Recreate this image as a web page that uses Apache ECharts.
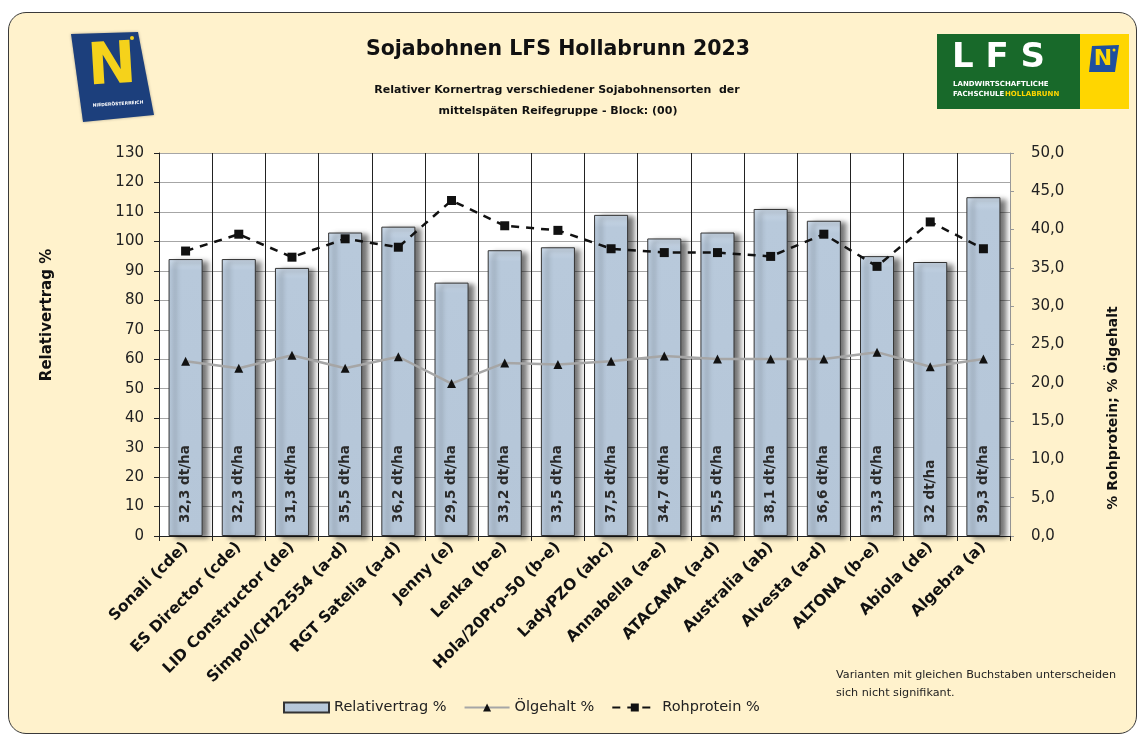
<!DOCTYPE html>
<html><head><meta charset="utf-8">
<script src="https://cdn.jsdelivr.net/npm/echarts@6/dist/echarts.min.js"></script>
<style>
html,body{margin:0;padding:0;background:#fff;}
#frame{position:absolute;left:8px;top:12px;width:1129px;height:722px;border:1.5px solid #3a3a3a;border-radius:18px;background:#fff2cc;box-sizing:border-box;}
#chart{position:absolute;left:0;top:0;width:1144px;height:738px;}
</style></head><body>
<div id="frame"></div><div id="chart"></div>
<script>
const categories = ['Sonali (cde)','ES Director (cde)','LID Constructor (de)','Simpol/CH22554 (a-d)','RGT Satelia (a-d)','Jenny (e)','Lenka (b-e)','Hola/20Pro-50 (b-e)','LadyPZO (abc)','Annabella (a-e)','ATACAMA (a-d)','Australia (ab)','Alvesta (a-d)','ALTONA (b-e)','Abiola (de)','Algebra (a)'];
const relativertrag = [94, 94, 91, 103, 105, 86, 97, 98, 109, 101, 103, 111, 107, 95, 93, 115];
const oelgehalt = [22.8, 21.9, 23.6, 21.9, 23.4, 19.9, 22.6, 22.4, 22.8, 23.5, 23.1, 23.1, 23.1, 24.0, 22.1, 23.1];
const rohprotein = [37.2, 39.4, 36.4, 38.8, 37.7, 43.8, 40.5, 39.9, 37.5, 37.0, 37.0, 36.5, 39.4, 35.2, 41.0, 37.5];
const ertragLabels = ['32,3','32,3','31,3','35,5','36,2','29,5','33,2','33,5','37,5','34,7','35,5','38,1','36,6','33,3','32','39,3'];
const leftAxis = {min: 0, max: 130, interval: 10};
const rightAxis = {min: 0, max: 50, interval: 5};

const FONT = 'DejaVu Sans';
const chart = echarts.init(document.getElementById('chart'));
chart.setOption({
  backgroundColor: 'transparent',
  textStyle: {fontFamily: FONT},
  animation: false,
  grid: {left: 159, right: 134, top: 153, bottom: 202, show: true, backgroundColor: '#ffffff', borderWidth: 0},
  legend: {
    left: 278, top: 695, itemWidth: 45, itemHeight: 10, itemGap: 17,
    textStyle: {fontFamily: FONT, fontSize: 14.5, color: '#222'},
    data: [{name: 'Relativertrag %', icon: 'rect'}, {name: 'Ölgehalt %'}, {name: 'Rohprotein %'}]
  },
  xAxis: {
    type: 'category', data: categories,
    axisLine: {lineStyle: {color: '#222', width: 1}},
    axisTick: {show: true, length: 5, lineStyle: {color: '#222'}},
    splitLine: {show: true, lineStyle: {color: '#222', width: 1}},
    axisLabel: {rotate: 45, interval: 0, fontFamily: FONT, fontWeight: 'bold', fontSize: 15.5, color: '#111', margin: 9}
  },
  yAxis: [{
    type: 'value', min: leftAxis.min, max: leftAxis.max, interval: leftAxis.interval,
    axisLine: {show: true, lineStyle: {color: '#222'}},
    axisTick: {show: true, length: 5, lineStyle: {color: '#222'}},
    splitLine: {show: true, lineStyle: {color: '#a6a6a6', width: 1}},
    axisLabel: {fontFamily: FONT, fontSize: 15, color: '#222', margin: 15}
  }, {
    type: 'value', min: rightAxis.min, max: rightAxis.max, interval: rightAxis.interval, position: 'right',
    axisLine: {show: true, lineStyle: {color: '#999'}},
    axisTick: {show: true, length: 4, lineStyle: {color: '#999'}},
    splitLine: {show: false},
    axisLabel: {fontFamily: FONT, fontSize: 15, color: '#222', margin: 21, formatter: v => v.toFixed(1).replace('.', ',')}
  }],
  series: [{
    name: 'Relativertrag %', type: 'bar', data: relativertrag, barWidth: '64%', z: 2,
    itemStyle: {
      color: new echarts.graphic.LinearGradient(0, 0, 0, 1, [{offset: 0, color: '#cddbea'}, {offset: 0.04, color: '#b8c9db'}, {offset: 1, color: '#b5c6d8'}]),
      borderColor: '#333', borderWidth: 1,
      shadowColor: 'rgba(0,0,0,0.55)', shadowBlur: 5, shadowOffsetX: 6, shadowOffsetY: 2
    },
    label: {
      show: true, position: 'insideBottom', rotate: 90, align: 'left', verticalAlign: 'middle', distance: 13,
      fontFamily: FONT, fontWeight: 'bold', fontSize: 13.5, color: '#2a2a2a',
      formatter: p => ertragLabels[p.dataIndex] + ' dt/ha'
    }
  }, {
    name: 'Ölgehalt %', type: 'line', yAxisIndex: 1, data: oelgehalt, z: 4,
    symbol: 'triangle', symbolSize: 9,
    lineStyle: {color: '#a6a6a6', width: 2.5},
    itemStyle: {color: '#111'}
  }, {
    name: 'Rohprotein %', type: 'line', yAxisIndex: 1, data: rohprotein, z: 5,
    symbol: 'rect', symbolSize: 9,
    lineStyle: {color: '#111', width: 2.5, type: [8, 7]},
    itemStyle: {color: '#111'}
  }],
  graphic: [
    {type: 'text', x: 558, y: 50, style: {text: 'Sojabohnen LFS Hollabrunn 2023', font: 'bold 20.5px "DejaVu Sans"', fill: '#111', align: 'center', verticalAlign: 'middle'}},
    {type: 'text', x: 557, y: 90, style: {text: 'Relativer Kornertrag verschiedener Sojabohnensorten  der', font: 'bold 11px "DejaVu Sans"', fill: '#111', align: 'center', verticalAlign: 'middle'}},
    {type: 'text', x: 558, y: 111, style: {text: 'mittelspäten Reifegruppe - Block: (00)', font: 'bold 11px "DejaVu Sans"', fill: '#111', align: 'center', verticalAlign: 'middle'}},
    {type: 'text', x: 47, y: 315, rotation: Math.PI / 2, style: {text: 'Relativertrag %', font: 'bold 15px "DejaVu Sans"', fill: '#111', align: 'center', verticalAlign: 'middle'}},
    {type: 'text', x: 1113, y: 408, rotation: Math.PI / 2, style: {text: '% Rohprotein; % Ölgehalt', font: 'bold 14px "DejaVu Sans"', fill: '#111', align: 'center', verticalAlign: 'middle'}},
    {type: 'text', x: 836, y: 675, style: {text: 'Varianten mit gleichen Buchstaben unterscheiden', font: '11.2px "DejaVu Sans"', fill: '#222', verticalAlign: 'middle'}},
    {type: 'text', x: 836, y: 693, style: {text: 'sich nicht signifikant.', font: '11.2px "DejaVu Sans"', fill: '#222', verticalAlign: 'middle'}},
    // left logo
    {type: 'polygon', shape: {points: [[71, 34], [138, 32], [154, 115], [83, 122]]}, style: {fill: '#1c3f7c', shadowColor: 'rgba(0,0,0,0.3)', shadowBlur: 3}},
    {type: 'text', x: 112, y: 68, rotation: 0.06, style: {text: 'N', font: 'bold 58px "DejaVu Sans"', fill: '#f5d21b', align: 'center', verticalAlign: 'middle'}},
    {type: 'circle', shape: {cx: 132, cy: 38, r: 2}, style: {fill: '#f5d21b'}},
    {type: 'text', x: 118, y: 104, rotation: 0.06, style: {text: 'NIEDERÖSTERREICH', font: 'bold 4.5px "DejaVu Sans"', fill: '#ffffff', align: 'center', verticalAlign: 'middle'}},
    // right logo
    {type: 'rect', shape: {x: 937, y: 34, width: 143, height: 75}, style: {fill: '#18692a'}},
    {type: 'rect', shape: {x: 1080, y: 34, width: 49, height: 75}, style: {fill: '#ffd600'}},
    {type: 'text', x: 952, y: 58, style: {text: 'L F S', font: 'bold 34px "DejaVu Sans"', fill: '#ffffff', verticalAlign: 'middle'}},
    {type: 'text', x: 953, y: 84, style: {text: 'LANDWIRTSCHAFTLICHE', font: 'bold 7px "DejaVu Sans"', fill: '#ffffff', verticalAlign: 'middle'}},
    {type: 'text', x: 953, y: 94, style: {text: 'FACHSCHULE', font: 'bold 7px "DejaVu Sans"', fill: '#ffffff', verticalAlign: 'middle'}},
    {type: 'text', x: 1005, y: 94, style: {text: 'HOLLABRUNN', font: 'bold 7px "DejaVu Sans"', fill: '#ffd600', verticalAlign: 'middle'}},
    {type: 'polygon', shape: {points: [[1092, 46], [1119, 45], [1115, 72], [1089, 72]]}, style: {fill: '#1f4f9f'}},
    {type: 'text', x: 1103, y: 59, style: {text: 'N', font: 'bold 22px "DejaVu Sans"', fill: '#ffd600', align: 'center', verticalAlign: 'middle'}},
    {type: 'circle', shape: {cx: 1114, cy: 50, r: 1.5}, style: {fill: '#ffd600'}}
  ]
});
</script>
</body></html>
